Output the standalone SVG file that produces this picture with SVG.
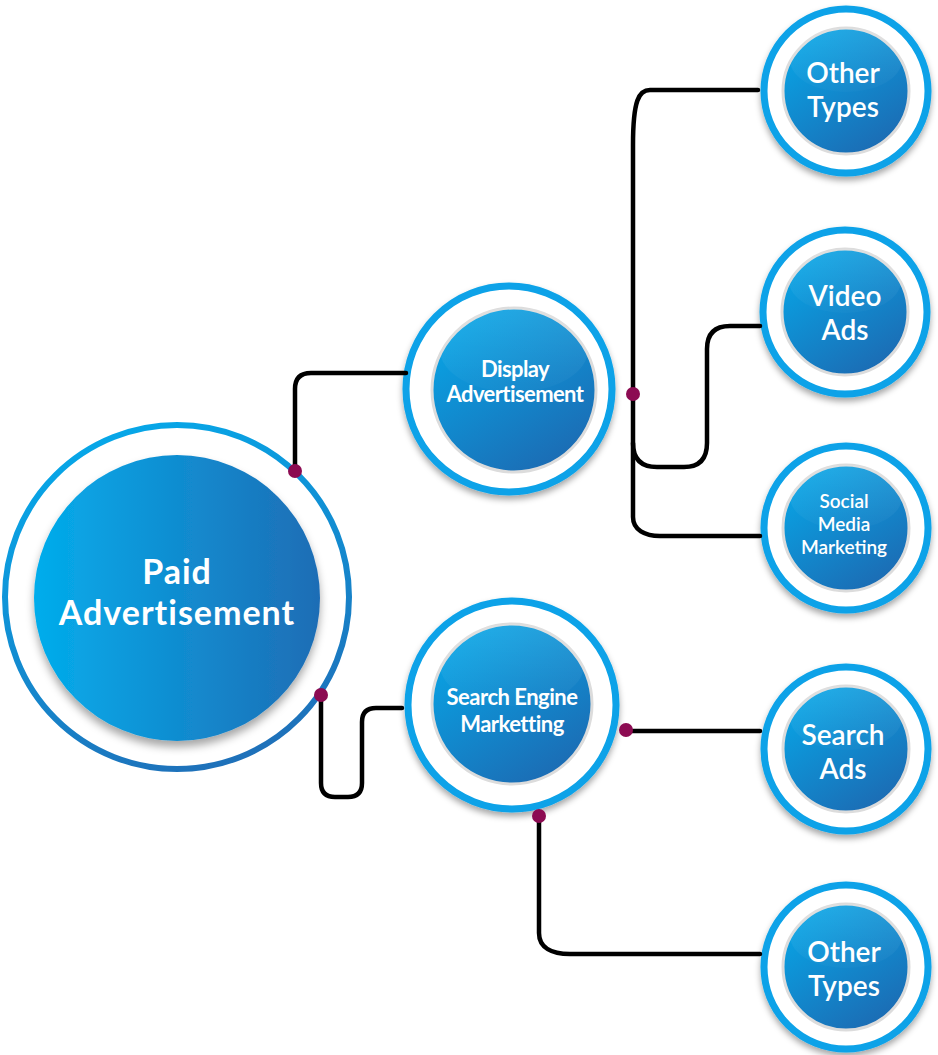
<svg xmlns="http://www.w3.org/2000/svg" width="938" height="1055" viewBox="0 0 938 1055">
<defs>
<linearGradient id="bigFill" x1="0" y1="0" x2="1" y2="0">
<stop offset="0" stop-color="#03ADEC"/>
<stop offset="1" stop-color="#1E6DB5"/>
</linearGradient>
<linearGradient id="bigRing" x1="0.3" y1="0" x2="0.7" y2="1">
<stop offset="0" stop-color="#06A8E9"/>
<stop offset="1" stop-color="#1F6FB8"/>
</linearGradient>
<linearGradient id="ballFill" x1="0.2" y1="0.05" x2="0.8" y2="0.95">
<stop offset="0" stop-color="#08A4E5"/>
<stop offset="1" stop-color="#1C6BB3"/>
</linearGradient>
<linearGradient id="gloss" x1="0" y1="0" x2="0" y2="1">
<stop offset="0" stop-color="#ffffff" stop-opacity="0.10"/>
<stop offset="1" stop-color="#ffffff" stop-opacity="0.02"/>
</linearGradient>
<filter id="sh" x="-20%" y="-20%" width="140%" height="140%">
<feDropShadow dx="0" dy="4" stdDeviation="3" flood-color="#000" flood-opacity="0.35"/>
</filter>
<filter id="shBig" x="-20%" y="-20%" width="140%" height="140%">
<feDropShadow dx="0" dy="6" stdDeviation="4" flood-color="#000" flood-opacity="0.35"/>
</filter>
</defs>
<style>
.ring{fill:#ffffff;stroke:#0AA2E8;stroke-width:7}
.ball{fill:url(#ballFill);stroke:#DCDCDC;stroke-width:3}
.gl{fill:url(#gloss)}
.t{font-family:Lato,"Open Sans","Liberation Sans",sans-serif;fill:#ffffff;text-anchor:middle}
.tb{font-weight:bold}
.ts{font-weight:600;font-size:28px}
.conn{fill:none;stroke:#000000;stroke-width:4.5;stroke-linecap:round;stroke-linejoin:round}
.dot{fill:#8C0B52}
</style>
<rect width="938" height="1055" fill="#ffffff"/>

<g id="paid">
<circle cx="177" cy="597" r="172" fill="#ffffff" stroke="url(#bigRing)" stroke-width="6"/>
<circle cx="177" cy="598" r="143" fill="url(#bigFill)" filter="url(#shBig)"/>
<text class="t tb" x="177" y="584" font-size="34" letter-spacing="1">Paid</text>
<text class="t tb" x="177" y="625" font-size="34" letter-spacing="1">Advertisement</text>
</g>

<g id="display">
<circle class="ring" cx="509" cy="389" r="103" stroke-width="8" filter="url(#sh)"/>
<circle class="ball" cx="514" cy="390" r="82"/>
<ellipse class="gl" cx="514" cy="350" rx="74" ry="42"/>
<text class="t tb" x="515" y="377" font-size="22" letter-spacing="-0.6">Display</text>
<text class="t tb" x="515" y="402" font-size="22" letter-spacing="-0.6">Advertisement</text>
</g>

<g id="sem">
<circle class="ring" cx="512" cy="705" r="104" stroke-width="8" filter="url(#sh)"/>
<circle class="ball" cx="512" cy="704" r="80"/>
<ellipse class="gl" cx="512" cy="665" rx="72" ry="41"/>
<text class="t tb" x="512" y="705" font-size="22" letter-spacing="-0.5">Search Engine</text>
<text class="t tb" x="512" y="732" font-size="22" letter-spacing="-0.5">Marketting</text>
</g>

<g id="other-top">
<circle class="ring" cx="846" cy="91" r="82" filter="url(#sh)"/>
<circle class="ball" cx="846" cy="91" r="63"/>
<ellipse class="gl" cx="846" cy="60" rx="56" ry="32"/>
<text class="t ts" x="843" y="83">Other</text>
<text class="t ts" x="843" y="117">Types</text>
</g>

<g id="video">
<circle class="ring" cx="845" cy="312" r="82" filter="url(#sh)"/>
<circle class="ball" cx="845" cy="312" r="63"/>
<ellipse class="gl" cx="845" cy="281" rx="56" ry="32"/>
<text class="t ts" x="845" y="306">Video</text>
<text class="t ts" x="845" y="340">Ads</text>
</g>

<g id="social">
<circle class="ring" cx="846" cy="528" r="82" filter="url(#sh)"/>
<circle class="ball" cx="846" cy="528" r="63"/>
<ellipse class="gl" cx="846" cy="497" rx="56" ry="32"/>
<text class="t" x="844" y="508" font-size="19" font-weight="600">Social</text>
<text class="t" x="844" y="531" font-size="19" font-weight="600">Media</text>
<text class="t" x="844" y="554" font-size="19" font-weight="600">Marketing</text>
</g>

<g id="search-ads">
<circle class="ring" cx="846" cy="749" r="82" filter="url(#sh)"/>
<circle class="ball" cx="846" cy="749" r="63"/>
<ellipse class="gl" cx="846" cy="718" rx="56" ry="32"/>
<text class="t ts" x="843" y="745">Search</text>
<text class="t ts" x="843" y="779">Ads</text>
</g>

<g id="other-bottom">
<circle class="ring" cx="846" cy="967" r="82" filter="url(#sh)"/>
<circle class="ball" cx="846" cy="967" r="63"/>
<ellipse class="gl" cx="846" cy="936" rx="56" ry="32"/>
<text class="t ts" x="844" y="962">Other</text>
<text class="t ts" x="844" y="996">Types</text>
</g>

<g id="connectors">
<path class="conn" d="M295,471 V389 Q295,373 311,373 H406"/>
<path class="conn" d="M321,695 V783 Q321,797 335,797 H348 Q362,797 362,783 V722 Q362,708 376,708 H402"/>
<path class="conn" d="M758,90 H650 C639,90 633,100 633,145 V517 C633,530 645,536 660,536 H760"/>
<path class="conn" d="M633,443 Q633,467 657,467 H684 Q707,467 707,443 V349 Q707,326 730,326 H760"/>
<path class="conn" d="M626,731 H760"/>
<path class="conn" d="M539,816 V933 C539,948 552,954 570,954 H760"/>
<circle class="dot" cx="295" cy="471" r="7"/>
<circle class="dot" cx="321" cy="695" r="7"/>
<circle class="dot" cx="633" cy="394" r="7"/>
<circle class="dot" cx="626" cy="730" r="7"/>
<circle class="dot" cx="539" cy="816" r="7"/>
</g>
</svg>
